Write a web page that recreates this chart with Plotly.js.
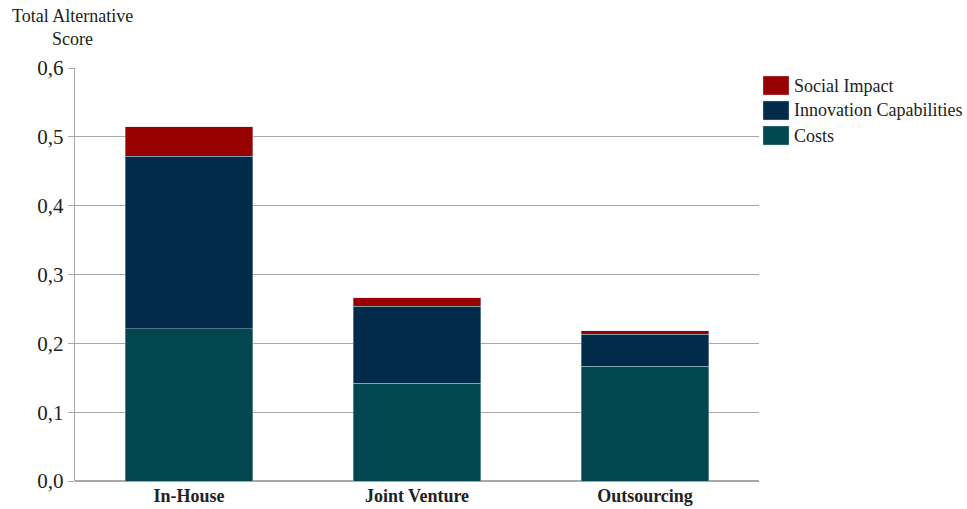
<!DOCTYPE html>
<html>
<head>
<meta charset="utf-8">
<script src="https://cdn.plot.ly/plotly-3.0.1.min.js"></script>
<style>body{margin:0;padding:0;background:#fff;}#chart{width:967px;height:509px;}</style>
</head>
<body>
<div id="chart"></div>
<script>
const categories = ["In-House", "Joint Venture", "Outsourcing"];
const costs = [0.221, 0.142, 0.167];
const innovation = [0.251, 0.112, 0.046];
const social = [0.043, 0.012, 0.005];
const seriesNames = ["Costs", "Innovation Capabilities", "Social Impact"];
const seriesColors = ["#02464f", "#012b48", "#990000"];
const yTicks = [0, 0.1, 0.2, 0.3, 0.4, 0.5, 0.6];

const W = 967, H = 509;
const M = {l: 75, r: 208, t: 68, b: 28};
const pw = W - M.l - M.r, ph = H - M.t - M.b;
const px = x => (x - M.l) / pw;
const py = y => (H - M.b - y) / ph;

const font = "'Liberation Serif', 'Times New Roman', serif";
const values = [costs, innovation, social];
const traces = values.map((v, i) => ({
  type: "bar", x: categories, y: v, name: seriesNames[i],
  marker: {color: seriesColors[i], line: {color: "rgba(200,215,225,0.6)", width: 0.7}},
  hoverinfo: "y+name"
}));

const shapes = [], annotations = [];
const legendOrder = [2, 1, 0];
legendOrder.forEach((si, k) => {
  const top = 76 + k * 25;
  shapes.push({type: "rect", xref: "paper", yref: "paper",
    x0: px(763), x1: px(789), y0: py(top), y1: py(top + 19),
    fillcolor: seriesColors[si], line: {color: "rgba(200,215,225,0.6)", width: 0.7}});
  annotations.push({xref: "paper", yref: "paper", x: px(792), y: py(top + 9.5),
    xanchor: "left", yanchor: "middle", text: seriesNames[si], showarrow: false,
    font: {family: font, size: 18, color: "#222"}});
});
annotations.push({xref: "paper", yref: "paper", x: px(72), y: py(4), xanchor: "center", yanchor: "top",
  text: "Total Alternative<br>Score", showarrow: false, align: "center",
  font: {family: font, size: 18, color: "#222"}});

const layout = {
  width: W, height: H, margin: M, barmode: "stack", bargap: 0.44,
  showlegend: false, separators: ", ",
  paper_bgcolor: "#fff", plot_bgcolor: "#fff",
  font: {family: font, color: "#222"},
  xaxis: {showgrid: false, showline: false, zeroline: false, ticks: "",
    tickfont: {family: font, size: 18, weight: "bold", color: "#222"},
    ticklabelstandoff: 2},
  yaxis: {range: [0, 0.6], tickvals: yTicks, tickformat: ".1f",
    showgrid: true, gridcolor: "#a8a8a8", gridwidth: 1,
    showline: true, linecolor: "#a8a8a8", linewidth: 1.2,
    zeroline: true, zerolinecolor: "#a8a8a8", zerolinewidth: 1.2,
    ticks: "outside", ticklen: 6, tickcolor: "#a8a8a8",
    tickfont: {family: font, size: 21, color: "#222"}},
  shapes: shapes, annotations: annotations
};
Plotly.newPlot("chart", traces, layout, {displayModeBar: false, staticPlot: true});
</script>
</body>
</html>
